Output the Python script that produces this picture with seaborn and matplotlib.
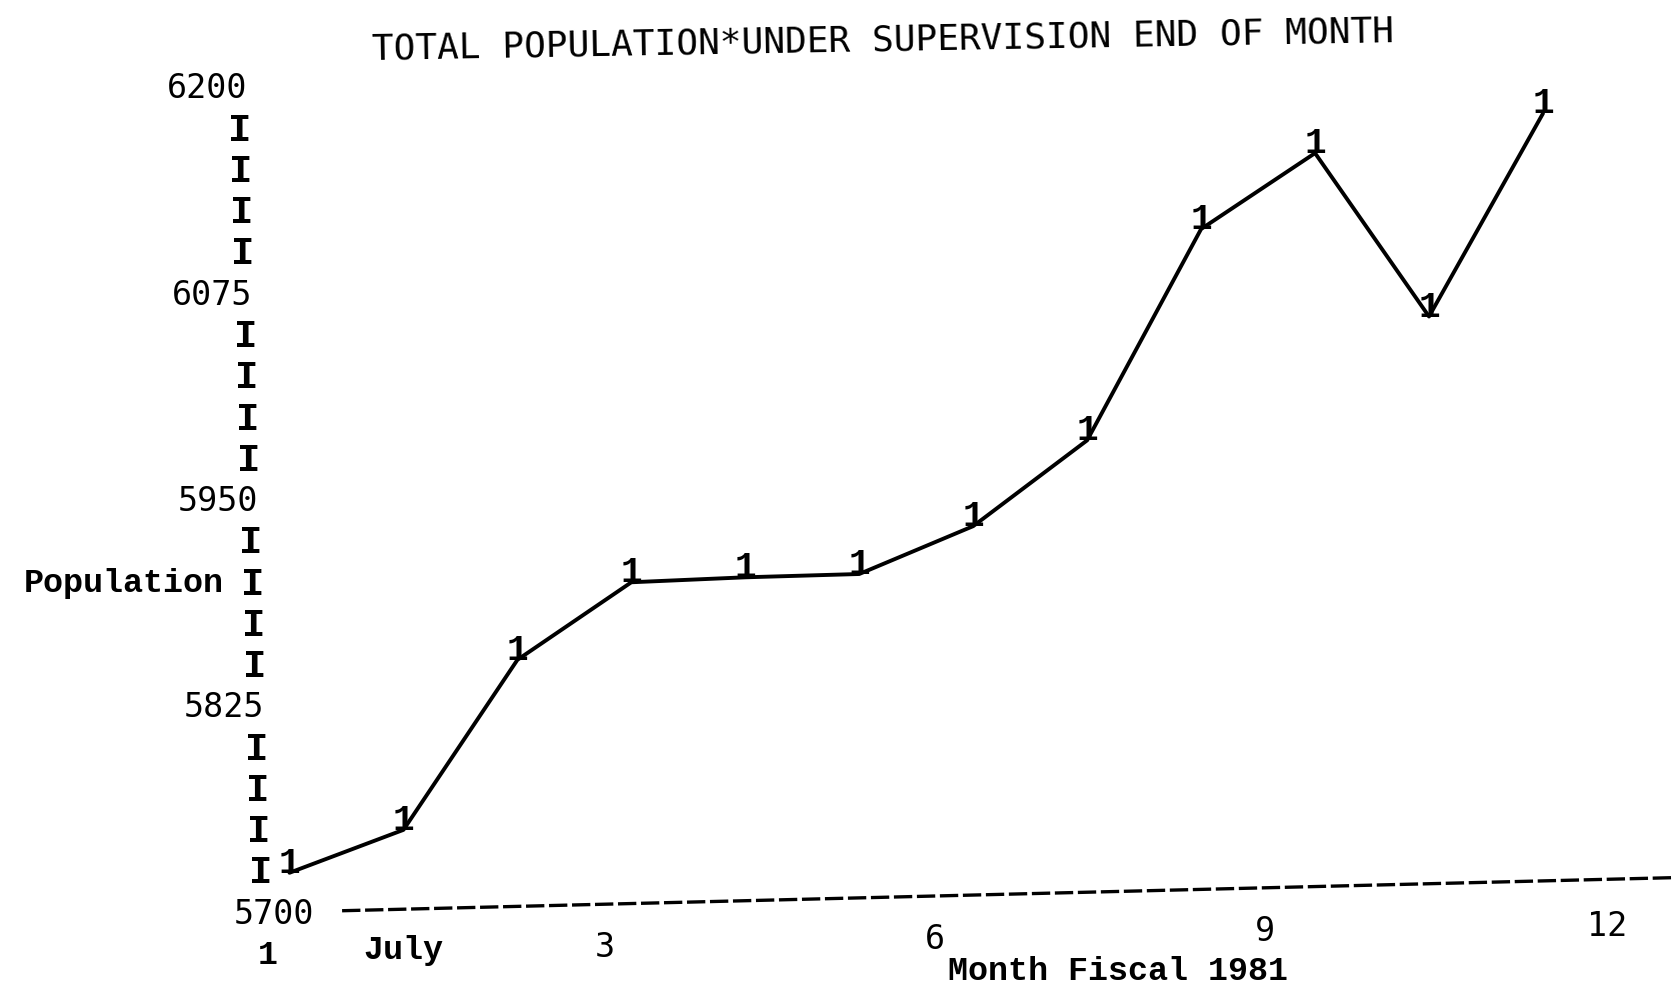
### Packages
import numpy as np
import pandas as pd
import matplotlib
matplotlib.use('Agg')
import matplotlib.pyplot as plt
import matplotlib.transforms as mtransforms
import seaborn as sns
sns.set_style('white')

### Data
months = [1, 2, 3, 4, 5, 6, 7, 8, 9, 10, 11, 12]
population = [5723, 5749, 5852, 5899, 5902, 5904, 5933, 5985, 6113, 6159, 6060, 6183]

x_tick_pos = [0.81, 2.0, 3.77, 6.66, 9.56, 12.56]
x_tick_labels = ['1', 'July', '3', '6', '9', '12']
y_numbers = [5700, 5825, 5950, 6075, 6200]
y_step = 25

title = 'TOTAL POPULATION*UNDER SUPERVISION END OF MONTH'
x_title = 'Month Fiscal 1981'
y_title = 'Population'

### Fonts
DOT = 'DejaVu Sans Mono'      # dot-matrix look (title, numbers)
TYPE = 'Liberation Mono'      # typewriter look (labels, markers)

### Figure
fig = plt.figure(figsize=(16.74, 10.05), dpi=100)
ax = fig.add_axes([0.16, 0.0938, 0.84, 0.8212])

df = pd.DataFrame({'month': months, 'population': population})
sns.lineplot(data=df, x='month', y='population', color='black', linewidth=2.8, ax=ax)

# printer plot symbol "1" sitting on each point
for m, p in zip(months, population):
    ax.text(m, p, '1', ha='center', va='baseline', fontsize=26, family=TYPE,
            weight='bold', color='black', clip_on=False)

ax.set_xlim(0.867, 13.15)
ax.set_ylim(y_numbers[0], y_numbers[-1])

y_ticks = list(range(y_numbers[0], y_numbers[-1] + 1, y_step))
y_labels = [str(v) if v in y_numbers else 'I' for v in y_ticks]
ax.set_yticks(y_ticks)
ax.set_yticklabels(y_labels)
ax.set_xticks(x_tick_pos)
ax.set_xticklabels(x_tick_labels)
ax.tick_params(axis='y', length=0, pad=15, labelsize=24, colors='black')
ax.tick_params(axis='x', length=0, pad=21, labelsize=24, colors='black')
sns.despine(ax=ax, left=True, bottom=True)

# scanned page is slightly tilted: nudge labels to follow it
for lab, v in zip(ax.get_yticklabels(), y_ticks):
    dx = (y_numbers[-1] - v) * 0.0463 + (44 if v == y_numbers[0] else 0)
    if v in y_numbers:
        lab.set_fontfamily(DOT)
    else:
        lab.set_fontfamily(TYPE)
        lab.set_fontweight('bold')
        lab.set_fontsize(28)
        dx += 3
    lab.set_transform(lab.get_transform() + mtransforms.ScaledTranslation(dx / 100, 0, fig.dpi_scale_trans))

x_dy = [0, 5, 8.5, 17, 24.5, 30]
for lab, txt, dy in zip(ax.get_xticklabels(), x_tick_labels, x_dy):
    lab.set_transform(lab.get_transform() + mtransforms.ScaledTranslation(0, dy / 100, fig.dpi_scale_trans))
    if txt in ('1', 'July'):
        lab.set_fontfamily(TYPE)
        lab.set_fontweight('bold')
    else:
        lab.set_fontfamily(DOT)

# dashed baseline, drawn like a row of printer hyphens
ax.plot([0.0528, 1.0], [0.0, 0.0401], transform=ax.transAxes, color='black',
        linewidth=2.4, linestyle=(0, (5.5, 1.4)), clip_on=False)

ax.set_xlabel(x_title, fontsize=24, family=TYPE, weight='bold', va='center', color='black')
ax.xaxis.set_label_coords(0.6046, -0.0737)
ax.set_ylabel(y_title, fontsize=24, family=TYPE, weight='bold', rotation=0, ha='right',
              va='center', color='black')
ax.yaxis.set_label_coords(-0.0311, 0.3959)

fig.text(883 / 1674, 1 - 40.6 / 1005, title, ha='center', va='center', fontsize=26,
         family=DOT, rotation=1.0, color='black')

fig.savefig('out.png', dpi=100, facecolor='white')
